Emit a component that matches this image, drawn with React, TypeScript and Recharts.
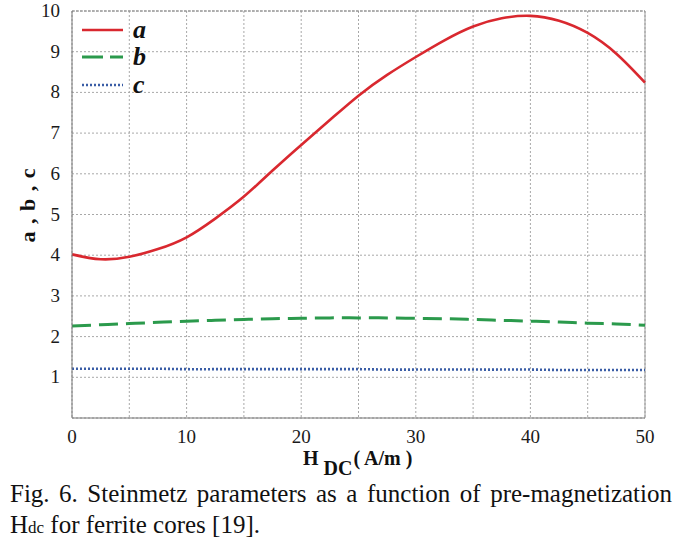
import { LineChart, Line, XAxis, YAxis, CartesianGrid, ReferenceLine } from 'recharts'

// H_DC (A/m)
const hdc = [0, 2.5, 5, 7.5, 10, 12.5, 15, 17.5, 20, 22.5, 25, 27.5, 30, 32.5, 35, 37.5, 40, 42.5, 45, 47.5, 50]
const aVals = [4.02, 3.9, 3.96, 4.15, 4.44, 4.9, 5.44, 6.08, 6.71, 7.32, 7.92, 8.43, 8.87, 9.28, 9.62, 9.82, 9.88, 9.76, 9.46, 8.95, 8.24]
const bVals = [2.26, 2.29, 2.32, 2.35, 2.38, 2.4, 2.42, 2.44, 2.45, 2.46, 2.46, 2.46, 2.45, 2.44, 2.42, 2.4, 2.38, 2.36, 2.33, 2.31, 2.28]
const cVals = [1.21, 1.21, 1.21, 1.21, 1.2, 1.2, 1.2, 1.2, 1.2, 1.2, 1.2, 1.19, 1.19, 1.19, 1.19, 1.19, 1.19, 1.18, 1.18, 1.18, 1.18]

const xTicks = [0, 5, 10, 15, 20, 25, 30, 35, 40, 45, 50]
const yTicks = [0, 1, 2, 3, 4, 5, 6, 7, 8, 9, 10]

const series = [
  { key: 'a', color: '#d9282f', dash: undefined, legendDash: undefined, width: 2.6 },
  { key: 'b', color: '#2b9a4c', dash: '19 8', legendDash: '21 7', width: 3 },
  { key: 'c', color: '#3a5da6', dash: '2 2', legendDash: '2 2', width: 2.6 },
]

const data = hdc.map((h, i) => ({ h, a: aVals[i], b: bVals[i], c: cVals[i] }))

const serif = '"Liberation Serif", "Times New Roman", serif'

function LegendBox() {
  return (
    <div style={{ position: 'absolute', left: 82, top: 16 }}>
      {series.map((s) => (
        <div key={s.key} style={{ display: 'flex', alignItems: 'center', height: 27.5 }}>
          <svg width={42} height={8}>
            <line x1={0} y1={4} x2={41} y2={4} stroke={s.color} strokeWidth={s.width} strokeDasharray={s.legendDash} />
          </svg>
          <span style={{ marginLeft: 9, fontSize: 26, fontWeight: 'bold', fontStyle: 'italic', color: '#111' }}>{s.key}</span>
        </div>
      ))}
    </div>
  )
}

function XTick({ x, y, payload }: any) {
  if (payload.value % 10 !== 0) return null
  return (
    <text x={x} y={y + 19} textAnchor="middle" fill="#1a1a1a" fontSize={19} style={{ fontFamily: serif }}>
      {payload.value}
    </text>
  )
}

function YTick({ x, y, payload }: any) {
  if (payload.value === 0) return null
  return (
    <text x={x} y={y + 6} textAnchor="end" fill="#1a1a1a" fontSize={19} style={{ fontFamily: serif }}>
      {payload.value}
    </text>
  )
}

export default function App() {
  return (
    <div style={{ position: 'absolute', left: 0, top: 0, width: 685, height: 544, background: '#fff', fontFamily: serif }}>
      <LineChart width={685} height={480} data={data} margin={{ top: 11, right: 40, left: 32, bottom: 32 }}>
        <CartesianGrid stroke="#a8a8a8" strokeDasharray="2 2" />
        <XAxis
          dataKey="h"
          type="number"
          domain={[0, 50]}
          ticks={xTicks}
          height={30}
          tickLine={false}
          tickMargin={0}
          axisLine={{ stroke: '#777' }}
          tick={<XTick />}
        />
        <YAxis
          type="number"
          domain={[0, 10]}
          ticks={yTicks}
          width={40}
          tickLine={false}
          tickMargin={6}
          axisLine={{ stroke: '#777' }}
          tick={<YTick />}
        />
        <ReferenceLine y={10} stroke="#888" strokeDasharray="3 1" />
        <ReferenceLine x={50} stroke="#999" />
        {series.map((s) => (
          <Line
            key={s.key}
            dataKey={s.key}
            type="natural"
            stroke={s.color}
            strokeWidth={s.width}
            strokeDasharray={s.dash}
            dot={false}
            isAnimationActive={false}
          />
        ))}
      </LineChart>
      <LegendBox />
      <div
        style={{
          position: 'absolute', left: 28, top: 205, transform: 'translate(-50%, -50%) rotate(-90deg)',
          fontWeight: 'bold', fontSize: 22, whiteSpace: 'nowrap', color: '#111', letterSpacing: 1,
        }}
      >
        a , b , c
      </div>
      <div
        style={{
          position: 'absolute', left: 303, top: 446,
          fontWeight: 'bold', fontSize: 20, whiteSpace: 'nowrap', color: '#111', lineHeight: '24px',
        }}
      >
        H<span style={{ display: 'inline-block', transform: 'translateY(10px)', marginLeft: 5, marginRight: 1 }}>DC</span>( A/m )
      </div>
      <div style={{ position: 'absolute', left: 10, top: 478, width: 662, fontSize: 25, color: '#111', lineHeight: '31px' }}>
        <div style={{ textAlign: 'justify', textAlignLast: 'justify', whiteSpace: 'nowrap' }}>Fig. 6. Steinmetz parameters as a function of pre-magnetization</div>
        <div>
          H<span style={{ fontSize: 17 }}>dc</span> for ferrite cores [19].
        </div>
      </div>
    </div>
  )
}
